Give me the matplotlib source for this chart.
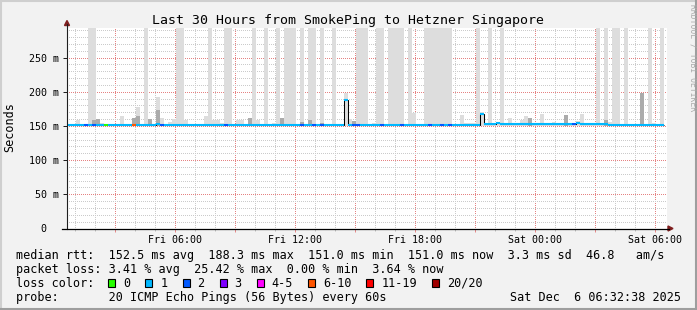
import matplotlib
matplotlib.use("Agg")
import matplotlib.pyplot as plt
from matplotlib.lines import Line2D
from matplotlib.patches import Rectangle, Polygon

W, H = 697, 310
MONO = "DejaVu Sans Mono"

title = "Last 30 Hours from SmokePing to Hetzner Singapore"

# time axis: hours since Fri 00:00, one smoke bin = 12 minutes
bin_start = 0.65
bin_hours = 0.2

# median rtt per bin (ms)
median_rtt = [
    151.5, 151.5, 151.5, 151.5, 151.5, 151.5, 151.5, 151.5, 151.5, 151.5,
    151.5, 151.5, 151.5, 151.5, 151.5, 151.5, 151.5, 151.5, 151.5, 151.5,
    151.5, 151.5, 153.0, 151.5, 151.5, 151.5, 151.5, 151.5, 151.5, 151.5,
    151.5, 151.5, 151.5, 151.5, 151.5, 151.5, 151.5, 151.5, 151.5, 151.5,
    151.5, 151.5, 151.5, 151.5, 151.5, 151.5, 151.5, 151.5, 151.5, 151.5,
    151.5, 151.5, 151.5, 151.5, 151.5, 151.5, 151.5, 151.5, 151.5, 151.5,
    151.5, 151.5, 151.5, 151.5, 151.5, 151.5, 151.5, 151.5, 151.5, 188.3,
    151.5, 151.5, 151.5, 151.5, 151.5, 151.5, 151.5, 151.5, 151.5, 151.5,
    151.5, 151.5, 151.5, 151.5, 151.5, 151.5, 151.5, 151.5, 151.5, 151.5,
    151.5, 151.5, 151.5, 151.5, 151.5, 151.5, 151.5, 151.5, 151.5, 151.5,
    151.5, 151.5, 151.5, 167.6, 152.8, 152.8, 152.8, 154.5, 152.8, 152.8,
    152.8, 152.8, 152.8, 152.8, 152.8, 152.8, 152.8, 152.8, 152.8, 152.8,
    152.8, 152.8, 152.8, 152.8, 152.8, 152.8, 152.8, 154.5, 152.8, 152.8,
    152.8, 152.8, 152.8, 152.8, 152.8, 151.0, 151.0, 151.0, 151.0, 151.0,
    151.0, 151.0, 151.0, 151.0, 151.0, 151.0, 151.0, 151.0, 151.0,
]

# loss bucket per bin (index into loss_labels)
loss_bucket = [
    1, 1, 1, 1, 2, 1, 2, 1, 1, 0,
    1, 1, 1, 1, 1, 1, 5, 1, 1, 1,
    1, 1, 1, 2, 1, 1, 1, 1, 1, 1,
    1, 1, 1, 1, 1, 1, 1, 1, 1, 2,
    1, 1, 1, 1, 1, 1, 1, 1, 1, 1,
    1, 1, 1, 1, 1, 1, 1, 1, 2, 1,
    1, 2, 1, 2, 1, 1, 1, 1, 1, 1,
    1, 2, 2, 1, 1, 1, 1, 1, 2, 1,
    1, 1, 1, 2, 1, 1, 1, 1, 1, 1,
    2, 1, 1, 2, 1, 2, 1, 1, 1, 1,
    1, 1, 1, 1, 1, 1, 1, 1, 1, 1,
    1, 1, 1, 1, 1, 1, 1, 1, 1, 1,
    1, 1, 1, 1, 1, 1, 2, 1, 1, 1,
    1, 1, 1, 1, 1, 1, 1, 1, 1, 1,
    1, 1, 1, 1, 1, 1, 1, 1, 1,
]

# highest ping per bin (ms), 300 = off the chart
smoke_hi = [
    152, 153.5, 158, 153, 153, 300, 300, 160.6, 154, 153,
    153.5, 153.5, 152, 164, 153.5, 152, 162, 178, 153, 300,
    160.5, 153, 192.7, 161, 153, 156, 160, 300, 300, 159,
    153, 152, 152, 152, 165, 300, 158, 158, 155, 300,
    300, 153, 159, 159, 153, 162, 300, 159, 153, 300,
    152, 155, 300, 162, 300, 300, 300, 153, 300, 152,
    300, 300, 153, 300, 153, 153, 300, 152, 152, 198,
    160, 157, 300, 300, 300, 153, 154.5, 300, 300, 152,
    300, 300, 300, 300, 153, 300, 169, 153, 153, 300,
    300, 300, 300, 300, 300, 300, 152, 153, 166, 154,
    154, 154, 300, 170, 153, 300, 153, 155.5, 300, 155,
    161, 155, 155, 159, 165, 162, 154, 154, 168, 154,
    154, 156, 153, 153, 166, 153, 153, 157, 168, 153,
    153, 153, 300, 153, 300, 156, 300, 300, 152, 300,
    152, 152, 152, 198, 152, 300, 155, 152, 300,
]

# denser core of the smoke (ms), 0 = none
smoke_mid = [
    0, 0, 0, 0, 0, 0, 158, 160.6, 0, 0,
    0, 0, 0, 0, 0, 0, 162, 164, 0, 0,
    160.5, 0, 173, 0, 0, 0, 0, 0, 0, 0,
    0, 0, 0, 0, 0, 0, 0, 0, 0, 0,
    0, 0, 0, 0, 0, 162, 0, 0, 0, 0,
    0, 0, 0, 162, 0, 0, 0, 0, 156, 0,
    159, 0, 0, 155, 0, 0, 0, 0, 0, 0,
    0, 157, 0, 0, 0, 0, 0, 0, 0, 0,
    0, 0, 0, 0, 0, 0, 0, 0, 0, 0,
    0, 0, 0, 0, 0, 0, 0, 0, 0, 0,
    0, 0, 0, 0, 0, 0, 0, 0, 0, 0,
    0, 0, 0, 0, 0, 162, 0, 0, 0, 0,
    0, 0, 0, 0, 166, 0, 0, 0, 0, 0,
    0, 0, 0, 0, 159, 0, 0, 0, 0, 0,
    0, 0, 0, 198, 0, 0, 0, 0, 0,
]

loss_labels = ["0", "1", "2", "3", "4-5", "6-10", "11-19", "20/20"]
loss_colors = ["#26ff00", "#00b8ff", "#0059ff", "#7e00ff",
               "#ff00ff", "#ff5500", "#ff0000", "#a10000"]

x_ticks = [3, 6, 9, 12, 15, 18, 21, 24, 27, 30]
x_labels = ["", "Fri 06:00", "", "Fri 12:00", "", "Fri 18:00",
            "", "Sat 00:00", "", "Sat 06:00"]
y_ticks = [0, 50, 100, 150, 200, 250]
y_labels = ["0  ", "50 m", "100 m", "150 m", "200 m", "250 m"]

rtt = {"avg": 152.5, "max": 188.3, "min": 151.0, "now": 151.0, "sd": 3.3, "am/s": 46.8}
loss = {"avg": 3.41, "max": 25.42, "min": 0.00, "now": 3.64}
probe = "20 ICMP Echo Pings (56 Bytes) every 60s"
stamp = "Sat Dec  6 06:32:38 2025"


def px(x, y):
    return x / W, 1 - y / H


fig = plt.figure(figsize=(W / 100, H / 100), dpi=100, facecolor="#f2f2f2")
ax = fig.add_axes([67 / W, 1 - 228.5 / H, 600 / W, 201 / H])
ax.set_facecolor("white")

n = len(median_rtt)
lefts = [bin_start + bin_hours * i for i in range(n)]
rights = [l + bin_hours for l in lefts]
base = 150.5

# smoke
ax.bar(lefts, [h - base for h in smoke_hi], bottom=base, width=bin_hours,
       align="edge", color="#dddddd", linewidth=0, antialiased=False, zorder=2)
mid_x = [l for l, m in zip(lefts, smoke_mid) if m > 0]
mid_h = [m - base for m in smoke_mid if m > 0]
ax.bar(mid_x, mid_h, bottom=base, width=bin_hours, align="edge",
       color="#ababab", linewidth=0, antialiased=False, zorder=2)

# median line, coloured by loss
ax.stairs(median_rtt, lefts + [rights[-1]], baseline=None, color="black",
          linewidth=0.75, zorder=3)
ax.hlines(median_rtt, lefts, rights, colors=[loss_colors[b] for b in loss_bucket],
          linewidth=1.5, zorder=4)

ax.set_xlim(0.6, 30.6)
ax.set_ylim(0, 294)
ax.set_xticks(x_ticks)
ax.set_xticklabels(x_labels, family=MONO, fontsize=7.2)
ax.set_xticks([h for h in range(1, 31) if h % 3], minor=True)
ax.set_yticks(y_ticks)
ax.set_yticklabels(y_labels, family=MONO, fontsize=7.2)
ax.set_yticks([v for v in range(10, 294, 10) if v % 50], minor=True)

ax.set_axisbelow(True)
ax.grid(which="major", color="#e58282", linestyle=(0.5, (1, 1)), linewidth=0.72)
ax.grid(which="minor", color="#cbcbcb", linestyle=(0.5, (1, 1)), linewidth=0.72)
ax.tick_params(axis="x", which="major", length=2.5, width=0.72, color="#e58a8a", pad=2)
ax.tick_params(axis="x", which="minor", length=1.5, width=0.72, color="#c0c0c0")
ax.tick_params(axis="y", which="major", length=3, width=0.72, color="#1f1f1f", pad=2.5)
ax.tick_params(axis="y", which="minor", length=0)
for s in ax.spines.values():
    s.set_visible(False)

# axes with arrows
fig.add_artist(Line2D([67 / W, 67 / W], [1 - 228.5 / H, 1 - 24 / H],
                      color="#1f1f1f", linewidth=0.8))
fig.add_artist(Line2D([62 / W, 669 / W], [1 - 228.5 / H, 1 - 228.5 / H],
                      color="#000000", linewidth=0.9))
fig.add_artist(Polygon([px(64.5, 25.5), px(69.5, 25.5), px(67, 20.5)],
                       closed=True, color="#801f1f", transform=fig.transFigure))
fig.add_artist(Polygon([px(668, 226), px(668, 231), px(673, 228.5)],
                       closed=True, color="#801f1f", transform=fig.transFigure))

# frame
fig.add_artist(Line2D([0, 1], [1 - 0.5 / H, 1 - 0.5 / H], color="#cfcfcf", linewidth=1.5))
fig.add_artist(Line2D([0.5 / W, 0.5 / W], [0, 1], color="#cfcfcf", linewidth=1.5))
fig.add_artist(Line2D([0, 1], [0.7 / H, 0.7 / H], color="#9e9e9e", linewidth=1.5))
fig.add_artist(Line2D([1 - 0.7 / W, 1 - 0.7 / W], [0, 1], color="#9e9e9e", linewidth=1.5))

fig.text(*px(348, 24), title, ha="center", va="baseline", family=MONO, fontsize=9.5)
fig.text(*px(10, 127.5), "Seconds", rotation=90, ha="center", va="center",
         family=MONO, fontsize=8.5)
fig.text(*px(693, 58), "RRDTOOL / TOBI OETIKER", rotation=270, ha="center",
         va="center", family=MONO, fontsize=5.8, color="#ababab")

line1 = (f"median rtt:  {rtt['avg']:.1f} ms avg  {rtt['max']:.1f} ms max  "
         f"{rtt['min']:.1f} ms min  {rtt['now']:.1f} ms now  {rtt['sd']:.1f} ms sd  "
         f"{rtt['am/s']:.1f}   am/s")
line2 = (f"packet loss: {loss['avg']:.2f} % avg  {loss['max']:.2f} % max  "
         f"{loss['min']:.2f} % min  {loss['now']:.2f} % now")
fig.text(*px(16, 258.7), line1, va="baseline", family=MONO, fontsize=8.5)
fig.text(*px(16, 272.7), line2, va="baseline", family=MONO, fontsize=8.5)
fig.text(*px(16, 286.7), "loss color:", va="baseline", family=MONO, fontsize=8.5)
fig.text(*px(16, 300.7), "probe:       " + probe, va="baseline", family=MONO, fontsize=8.5)
fig.text(*px(681, 300.7), stamp, ha="right", va="baseline", family=MONO, fontsize=8.5)

bx = 108.3
for lab, col in zip(loss_labels, loss_colors):
    fig.add_artist(Rectangle(px(bx, 286.5), 7 / W, 8 / H, transform=fig.transFigure,
                             facecolor=col, edgecolor="black", linewidth=0.8))
    fig.text(*px(bx + 15, 286.7), lab, va="baseline", family=MONO, fontsize=8.5)
    bx += 30 + 7.1 * len(lab)

fig.savefig("out.png", dpi=100, facecolor=fig.get_facecolor())
